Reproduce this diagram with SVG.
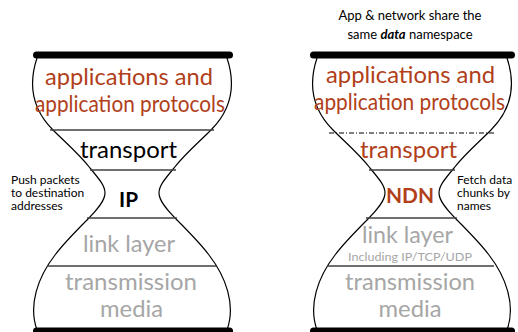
<svg xmlns="http://www.w3.org/2000/svg" width="518" height="332" viewBox="0 0 518 332">
<style>
text{font-family:Lato,"Liberation Sans",sans-serif;text-anchor:middle}
.big{font-size:23px}
.red{fill:#B1401A}
.blk{fill:#000}
.gry{fill:#A6A6A6}
.sm{font-size:12px;fill:#000;text-anchor:start}
.bar{stroke:#000;stroke-width:7;stroke-linecap:round}
.out{fill:none;stroke:#000;stroke-width:1.2}
.sep{stroke:#404040;stroke-width:1.3}
.dd{stroke:#000;stroke-width:1;stroke-dasharray:5,2,1,2}
</style>
<defs>
<path id="half" d="M37,58 C29,82 31,108 53,130 C66,143 80,155 90,168 C100,180 105,186 105,193 C105,201 97,210 87,220 C77,230 64,243 55,255 C38,277 28,305 37,330"/>
</defs>
<g id="left-hourglass">
<use href="#half" class="out"/>
<use href="#half" class="out" transform="matrix(-1,0,0,1,264,0)"/>
<line class="bar" x1="36.5" y1="55" x2="229.5" y2="55"/>
<line class="bar" x1="36.5" y1="331" x2="229.5" y2="331"/>
</g>
<g id="right-hourglass">
<use href="#half" class="out" transform="translate(280,0)"/>
<use href="#half" class="out" transform="matrix(-1,0,0,1,544,0)"/>
<line class="bar" x1="313.5" y1="55" x2="511.5" y2="55"/>
<line class="bar" x1="313.5" y1="331" x2="511.5" y2="331"/>
</g>
<g id="connectors">
<line class="sep" x1="50" y1="130" x2="214" y2="130"/>
<line class="sep" x1="90" y1="170" x2="176" y2="170"/>
<line class="sep" x1="87" y1="218" x2="177" y2="218"/>
<line class="sep" x1="47" y1="266" x2="216" y2="266"/>
<line class="dd" x1="329" y1="133" x2="495" y2="133"/>
<line class="sep" x1="369" y1="170" x2="455" y2="170"/>
<line class="sep" x1="366" y1="218" x2="457" y2="218"/>
<line class="sep" x1="327" y1="266" x2="494" y2="266"/>
</g>
<g id="left-app">
<text class="big red" x="129" y="85" textLength="168" lengthAdjust="spacingAndGlyphs">applications and</text>
<text class="big red" x="130" y="112" textLength="190" lengthAdjust="spacingAndGlyphs">application protocols</text>
</g>
<g id="left-transport"><text class="big blk" x="128.5" y="158" textLength="97" lengthAdjust="spacingAndGlyphs">transport</text></g>
<g id="left-ip"><text class="blk" x="128.5" y="207" style="font-size:21px;font-weight:bold" textLength="19" lengthAdjust="spacingAndGlyphs">IP</text></g>
<g id="left-link"><text class="big gry" x="129" y="252" textLength="92" lengthAdjust="spacingAndGlyphs">link layer</text></g>
<g id="left-media">
<text class="big gry" x="131" y="290" textLength="132" lengthAdjust="spacingAndGlyphs">transmission</text>
<text class="big gry" x="131.5" y="317" textLength="63" lengthAdjust="spacingAndGlyphs">media</text>
</g>
<g id="left-note">
<text class="sm" x="11" y="184">Push packets</text>
<text class="sm" x="11" y="197">to destination</text>
<text class="sm" x="11" y="210">addresses</text>
</g>
<g id="right-note-top">
<text x="410" y="20" style="font-size:13px">App &amp; network share the</text>
<text x="410" y="39" style="font-size:13px">same <tspan style="font-weight:bold;font-style:italic">data</tspan> namespace</text>
</g>
<g id="right-app">
<text class="big red" x="410.5" y="83" textLength="169" lengthAdjust="spacingAndGlyphs">applications and</text>
<text class="big red" x="409.5" y="110" textLength="191" lengthAdjust="spacingAndGlyphs">application protocols</text>
</g>
<g id="right-transport"><text class="big red" x="408.5" y="158" textLength="97" lengthAdjust="spacingAndGlyphs">transport</text></g>
<g id="right-ndn"><text class="red" x="410" y="203" style="font-size:21px;font-weight:bold" textLength="48" lengthAdjust="spacingAndGlyphs">NDN</text></g>
<g id="right-link">
<text class="big gry" x="407.5" y="243" textLength="91" lengthAdjust="spacingAndGlyphs">link layer</text>
<text class="gry" x="410" y="261" style="font-size:11px" textLength="124" lengthAdjust="spacingAndGlyphs">Including IP/TCP/UDP</text>
</g>
<g id="right-media">
<text class="big gry" x="410" y="290" textLength="130" lengthAdjust="spacingAndGlyphs">transmission</text>
<text class="big gry" x="410" y="317" textLength="63" lengthAdjust="spacingAndGlyphs">media</text>
</g>
<g id="right-note">
<text class="sm" x="457" y="184">Fetch data</text>
<text class="sm" x="457" y="197">chunks by</text>
<text class="sm" x="457" y="210">names</text>
</g>
</svg>
